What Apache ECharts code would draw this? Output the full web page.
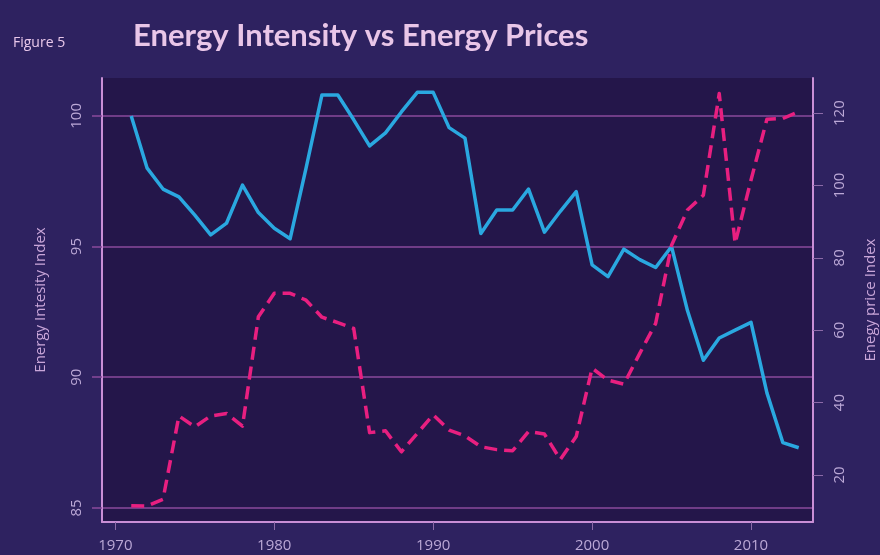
<!DOCTYPE html>
<html>
<head>
<meta charset="utf-8">
<script src="https://cdn.jsdelivr.net/npm/echarts@6/dist/echarts.min.js"></script>
<style>
  html, body { margin: 0; padding: 0; background: #2e2260; }
  #chart { width: 880px; height: 555px; }
</style>
</head>
<body>
<div id="chart"></div>
<script>
// years on the x axis
var years = [1971, 1972, 1973, 1974, 1975, 1976, 1977, 1978, 1979, 1980,
             1981, 1982, 1983, 1984, 1985, 1986, 1987, 1988, 1989, 1990,
             1991, 1992, 1993, 1994, 1995, 1996, 1997, 1998, 1999, 2000,
             2001, 2002, 2003, 2004, 2005, 2006, 2007, 2008, 2009, 2010,
             2011, 2012, 2013];

// energy intensity index (left axis)
var intensity = [100.0, 98.0, 97.2, 96.9, 96.2, 95.45, 95.9, 97.35, 96.3, 95.7,
                 95.3, 98.0, 100.8, 100.8, 99.85, 98.85, 99.35, 100.15, 100.9, 100.9,
                 99.55, 99.15, 95.5, 96.4, 96.4, 97.2, 95.55, 96.35, 97.1, 94.3,
                 93.85, 94.9, 94.5, 94.2, 95.0, 92.55, 90.65, 91.5, 91.8, 92.1,
                 89.4, 87.5, 87.3];

// energy price index (right axis)
var prices = [11.5, 11.4, 13.3, 36.3, 33.3, 36.3, 37.0, 33.5, 63.7, 70.2,
              70.2, 68.3, 63.6, 62.1, 60.5, 31.7, 32.2, 26.4, 31.5, 36.6,
              32.4, 30.8, 27.8, 27.0, 26.7, 32.0, 31.3, 24.3, 30.6, 49.5,
              46.2, 45.1, 53.6, 61.9, 83.5, 93.2, 97.3, 125.4, 84.0, 101.5,
              118.3, 118.5, 120.4];

var xTicks = [1970, 1980, 1990, 2000, 2010];
var leftTicks = [85, 90, 95, 100];
var rightTicks = [20, 40, 60, 80, 100, 120];

var chart = echarts.init(document.getElementById('chart'));

var labelFont = {
    color: '#bba8d6',
    fontFamily: 'Open Sans',
    fontSize: 15
};

var option = {
  backgroundColor: '#2e2260',
  animation: false,
  title: [
    {
      text: 'Figure 5',
      left: 8,
      top: 31,
      textStyle: { color: '#e9c8ea', fontFamily: 'Open Sans', fontWeight: 'normal', fontSize: 14 }
    },
    {
      text: 'Energy Intensity vs Energy Prices',
      left: 128,
      top: 15,
      textStyle: { color: '#e9c6e8', fontFamily: 'Lato', fontWeight: 'bold', fontSize: 31 }
    }
  ],
  grid: {
    left: 102,
    right: 67,
    top: 78,
    bottom: 33,
    outerBoundsMode: 'none',
    containLabel: false,
    show: true,
    backgroundColor: '#24164a',
    borderWidth: 0
  },
  xAxis: {
    type: 'value',
    min: 1969.16,
    max: 2013.9,
    axisLine: { show: true, lineStyle: { color: '#c98fd6', width: 2 } },
    axisTick: { show: true, length: 8, customValues: xTicks, lineStyle: { color: '#8c6aa8', width: 1 } },
    axisLabel: Object.assign({
      customValues: xTicks,
      margin: 16,
      formatter: function (v) { return String(v); }
    }, labelFont),
    splitLine: { show: false }
  },
  yAxis: [
    {
      type: 'value',
      position: 'left',
      min: 84.46,
      max: 101.45,
      name: 'Energy Intesity Index',
      nameLocation: 'middle',
      nameGap: 54,
      nameTextStyle: { color: '#c9a6d9', fontFamily: 'Open Sans', fontSize: 15 },
      axisLine: { show: true, lineStyle: { color: '#c98fd6', width: 2 } },
      axisTick: { show: true, length: 10, customValues: leftTicks, lineStyle: { color: '#8a4a9c', width: 1.5 } },
      axisLabel: Object.assign({ customValues: leftTicks, rotate: 90, margin: 18 }, labelFont),
      splitLine: { show: true, lineStyle: { color: '#8a4a9c', width: 1.5 } }
    },
    {
      type: 'value',
      position: 'right',
      min: 7,
      max: 129.7,
      name: 'Enegy price Index',
      nameLocation: 'middle',
      nameGap: 50,
      nameRotate: 90,
      nameTextStyle: { color: '#c9a6d9', fontFamily: 'Open Sans', fontSize: 15 },
      axisLine: { show: true, lineStyle: { color: '#c98fd6', width: 2 } },
      axisTick: { show: true, length: 10, customValues: rightTicks, lineStyle: { color: '#8c6aa8', width: 1 } },
      axisLabel: Object.assign({ customValues: rightTicks, rotate: 90, margin: 19 }, labelFont),
      splitLine: { show: false }
    }
  ],
  series: [
    {
      name: 'Energy intensity',
      type: 'line',
      yAxisIndex: 0,
      symbol: 'none',
      data: years.map(function (y, i) { return [y, intensity[i]]; }),
      lineStyle: { color: '#2aa8e0', width: 3.5, join: 'round' }
    },
    {
      name: 'Energy prices',
      type: 'line',
      yAxisIndex: 1,
      symbol: 'none',
      data: years.map(function (y, i) { return [y, prices[i]]; }),
      lineStyle: { color: '#e81f80', width: 3.5, type: [13, 7], join: 'round' }
    }
  ]
};

chart.setOption(option);
</script>
</body>
</html>
